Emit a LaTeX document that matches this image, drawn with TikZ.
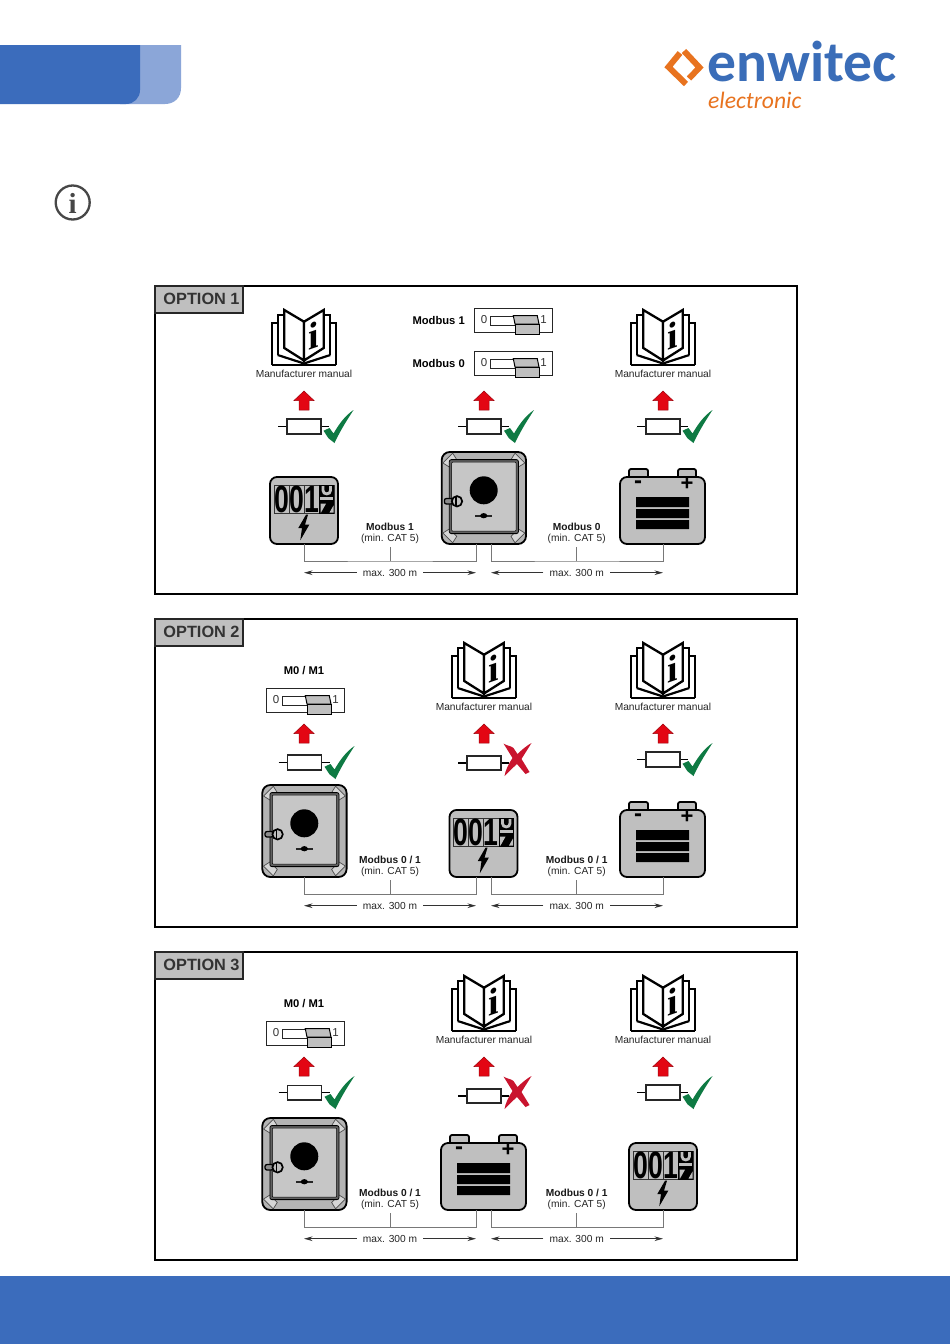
\documentclass[tikz,border=0pt]{standalone}
\usepackage{fontspec}
\setmainfont{Liberation Sans}
\newfontfamily\carlitofam{Carlito}
\newfontfamily\timesfam{Liberation Serif}
\usetikzlibrary{arrows.meta}
\definecolor{hdrblue}{HTML}{3B6CBC}
\definecolor{hdrlight}{HTML}{8BA6D8}
\definecolor{logoorange}{HTML}{E8731F}
\definecolor{logoblue}{HTML}{3A6DB8}
\definecolor{devgray}{HTML}{BFBFBF}
\definecolor{invouter}{HTML}{B4B4B4}
\definecolor{invinner}{HTML}{C6C6C6}
\definecolor{facet}{HTML}{D6D6D6}
\definecolor{okgreen}{HTML}{0E7A43}
\definecolor{nored}{HTML}{C9142E}
\definecolor{uparrow}{HTML}{E30613}
\definecolor{wiregray}{HTML}{787878}
\newcommand\fs[1]{\fontsize{#1}{#1}\selectfont}
\tikzset{
  x=1pt,y=-1pt,
  devline/.style={draw=black,line width=1.8pt,fill=devgray},
  panelframe/.style={draw=black,line width=1.4pt},
  tagbox/.style={draw=black!85,line width=1.2pt,fill=devgray},
  tagtext/.style={font=\bfseries\fs{16.3},text=black!80,inner sep=0pt},
  wire/.style={draw=wiregray,line width=1pt},
  dim/.style={draw=black!80,line width=.8pt,-{Stealth[length=8.5pt,width=4.6pt]}},
  smalltext/.style={font=\fs{10.2},inner sep=0pt,text=black!85},
  cablebold/.style={font=\bfseries\fs{10.2},inner sep=0pt,text=black!90},
  dimtext/.style={font=\fs{10.2},inner sep=6pt,text=black!85},
  bigbold/.style={font=\bfseries\fs{11.2},inner sep=0pt},
  swdigit/.style={font=\fs{11.5},inner sep=0pt,text=black!80},
  pagefill/.style={draw=black,line width=2.3pt,fill=white,line join=miter},
  bookline/.style={draw=black,line width=2.2pt,line join=miter},
  meterdigit/.style={font=\bfseries\fs{38},inner sep=0pt,xscale=.7,transform shape},
}
% book with label; #1 name, #2 centre x, #3 top y
\newcommand\manualicon[3]{%
\begin{scope}[shift={(#2,#3)}]
  \draw[bookline,fill=white] (-32,55) -- (-32,13) -- (-26,13) (32,55) -- (32,13) -- (26,13);
  \draw[bookline] (-32,55) -- (32,55);
  \draw[bookline] (-26.3,45) -- (-26.3,5) -- (-19.7,5);
  \draw[bookline] (26.3,45) -- (26.3,5) -- (19.7,5);
  \draw[bookline] (-26.3,45) -- (0,53.5) -- (26.3,45);
  \draw[pagefill] (0,11.7) -- (-19.7,0) -- (-19.7,38) -- (0,50.5) -- cycle;
  \draw[pagefill] (0,11.7) -- (19.7,0) -- (19.7,38) -- (0,50.5) -- cycle;
  \node[inner sep=0pt,font=\timesfam\bfseries\fs{38},yslant=.35,transform shape] (#1i) at (10,25) {i};
  \node[smalltext] (#1) at (0,64) {Manufacturer manual};
\end{scope}}
% red arrow: centre x, top y
\newcommand\redarrow[2]{%
  \filldraw[fill=uparrow,draw=uparrow!70!black,line width=.5pt,shift={(#1,#2)}]
   (0,0) -- (10,9.5) -- (5,9.5) -- (5,19) -- (-5,19) -- (-5,9.5) -- (-10,9.5) -- cycle;}
% resistor: name, centre x, centre y
\newcommand\resistor[3]{%
\begin{scope}[shift={(#2,#3)}]
  \coordinate (#1L) at (-26,0); \coordinate (#1R) at (25,0);
  \coordinate (#1a) at (-17,0); \coordinate (#1b) at (17,0);
  \draw[black,line width=1.1pt] (#1L) -- (#1a) (#1b) -- (#1R);
  \draw[draw=black!85,fill=white,line width=1.9pt] (-17,-7.2) rectangle (17,7.2);
\end{scope}}
% check mark: left x, top y
\newcommand\okmark[2]{%
  \fill[okgreen,shift={(#1,#2)}] (0,20.7) -- (6,18) -- (10,23.5) .. controls (15,15) and (21,6) .. (30,0)
   .. controls (25,8) and (18,18) .. (11,33) -- (5,28.3) -- cycle;}
% cross: left x, top y
\newcommand\nomark[2]{%
  \fill[nored,shift={(#1,#2)}] (0,0.5) .. controls (4,3) and (8,3) .. (10,5) -- (14,11) .. controls (18,7) and (24,2) .. (28,0)
    .. controls (25,5) and (21,11) .. (18,16) -- (26,29) -- (22,31) -- (13.5,21) .. controls (9,25) and (5,29) .. (1,33)
    .. controls (2,27) and (5,21) .. (9,15) -- cycle;}
% switch: name, left x, top y
\newcommand\switchbox[3]{%
\begin{scope}[shift={(#2,#3)}]
  \draw[draw=black!85,fill=white,line width=.9pt] (0,0) rectangle (78,24);
  \node[swdigit] (#1z) at (10,12) {0};
  \node[swdigit] (#1o) at (69.5,12) {1};
  \draw[draw=black!85,fill=white,line width=1pt] (16,8) rectangle (42,17);
  \filldraw[draw=black,line width=1pt,fill=devgray] (39.3,7.7) -- (63.3,7.7) -- (65,16) -- (41,16) -- cycle;
  \filldraw[draw=black,line width=1pt,fill=devgray] (41,16) rectangle (65,26);
\end{scope}}
% meter: left x, top y
\newcommand\meterdevice[3]{%
\begin{scope}[shift={(#2,#3)}]
  \draw[devline,rounded corners=7pt] (0,0) rectangle (68,67);
  \draw[draw=black!80,line width=.7pt] (4.3,8) rectangle (64,36.7);
  \draw[draw=black!80,line width=.7pt] (19.3,8) -- (19.3,36.7) (34.3,8) -- (34.3,36.7);
  \fill[black] (49.3,8) rectangle (64,36.7);
  \node[meterdigit] (#1d0) at (11.8,22.4) {0};
  \node[meterdigit] (#1d1) at (26.8,22.4) {0};
  \node[meterdigit] (#1d2) at (41.8,22.4) {1};
  \draw[devgray,line width=2.8pt] (53,9) -- (53,13.5) .. controls (53,18) and (60.5,18) .. (60.5,13.5) -- (60.5,9);
  \fill[devgray] (50.3,20) rectangle (63,22.7);
  \fill[devgray] (50.5,26.7) -- (56,26.7) -- (51,35.5) -- (50.5,35.5) -- cycle;
  \fill[devgray] (63.5,28.5) -- (63.5,35.5) -- (59.5,35.5) -- cycle;
  \fill[black] (36,37.7) -- (28.3,51) -- (32,51) -- (30.3,63.3) -- (39.3,47.7) -- (35,47.7) -- (38,37.7) -- cycle;
  \coordinate (#1) at (34,67);
\end{scope}}
% inverter: left x, top y
\newcommand\invdevice[3]{%
\begin{scope}[shift={(#2,#3)}]
  \draw[devline,fill=invouter,rounded corners=8pt] (0,0) rectangle (84.3,92);
  \foreach \sx/\sy in {0/0,1/0,0/1,1/1}{
    \begin{scope}[shift={(\sx*84.3,\sy*92)},xscale=1-2*\sx,yscale=1-2*\sy]
      \filldraw[fill=facet,draw=black!70,line width=.7pt] (1.2,11) -- (11,1.2) -- (15,7.6) -- (7.6,15) -- cycle;
    \end{scope}}
  \draw[draw=black,line width=.8pt,fill=black!62,rounded corners=2pt] (7.6,7.6) rectangle (76.7,81.6);
  \filldraw[draw=black,line width=.5pt,fill=invinner,rounded corners=1pt] (10,10) rectangle (74.4,79.2);
  \fill[black] (42,38.3) circle[radius=14pt];
  \draw[black!85,line width=1.9pt] (33.5,63.7) -- (50.5,63.7);
  \fill[black] (42,63.7) ellipse[x radius=3.6pt,y radius=2.6pt];
  \filldraw[draw=black,fill=black!45,line width=1.3pt,rounded corners=2pt] (2.7,46.5) rectangle (11,52);
  \filldraw[draw=black,fill=devgray,line width=1.7pt] (15.3,49.3) circle[radius=5.2pt];
  \draw[black,line width=1.2pt] (14.3,44.5) -- (14.3,54);
  \coordinate (#1) at (42,92);
\end{scope}}
% battery: left x, top y
\newcommand\battdevice[3]{%
\begin{scope}[shift={(#2,#3)}]
  \draw[devline,rounded corners=2pt] (9,4) -- (9,-8) -- (28,-8) -- (28,4);
  \draw[devline,rounded corners=2pt] (58,4) -- (58,-8) -- (76,-8) -- (76,4);
  \draw[devline,rounded corners=7pt] (0,0) rectangle (85,67);
  \node[inner sep=0pt,font=\bfseries\fs{24}] (#1m) at (18,8) {-};
  \node[inner sep=0pt,font=\bfseries\fs{22}] (#1p) at (67,7.5) {+};
  \fill[black] (16,20) rectangle (69,30) (16,32) rectangle (69,41) (16,43) rectangle (69,52);
  \coordinate (#1) at (42.5,67);
\end{scope}}
% panel: name, top y, title
\newcommand\optionpanel[3]{%
  \draw[panelframe] (155,#2) rectangle (797,#2+308);
  \draw[tagbox] (155,#2) rectangle (243,#2+27);
  \node[tagtext] (#1) at (201.5,#2+13) {#3};}
% wires: prefix, y offset, label 1, label 2
\newcommand\cabling[4]{%
\begin{scope}[shift={(0,#2)}]
  \coordinate (#1pa) at (304,544); \coordinate (#1pb) at (476,544);
  \coordinate (#1pc) at (491,544); \coordinate (#1pd) at (663,544);
  \coordinate (#1wa) at (390,561); \coordinate (#1wb) at (576.7,561);
  \coordinate (#1ta) at (390,547); \coordinate (#1tb) at (576.7,547);
  \draw[wire] (#1pa) |- (#1wa) -| (#1pb);
  \draw[wire] (#1pc) |- (#1wb) -| (#1pd);
  \draw[wire] (#1wa) -- (#1ta);
  \draw[wire] (#1wb) -- (#1tb);
  \node[cablebold] (#1ca) at (390,527) {#3};
  \node[smalltext] (#1cb) at (390,539) {(min. CAT 5)};
  \node[cablebold] (#1cc) at (576.7,527) {#4};
  \node[smalltext] (#1cd) at (576.7,539) {(min. CAT 5)};
  \node[dimtext] (#1da) at (390,572.7) {max. 300 m};
  \node[dimtext] (#1db) at (576.7,572.7) {max. 300 m};
  \coordinate (#1e1) at (304,572.7); \coordinate (#1e2) at (476,572.7);
  \coordinate (#1e3) at (491,572.7); \coordinate (#1e4) at (663,572.7);
  \draw[dim] (#1da) -- (#1e1);
  \draw[dim] (#1da) -- (#1e2);
  \draw[dim] (#1db) -- (#1e3);
  \draw[dim] (#1db) -- (#1e4);
\end{scope}}
\begin{document}
\begin{tikzpicture}
\useasboundingbox (0,0) rectangle (950,1344);
\fill[white] (0,0) rectangle (950,1344);
% header tabs
\fill[hdrlight] (120,45) -- (181,45) -- (181,88) .. controls (181,98) and (174,104) .. (165,104) -- (120,104) -- cycle;
\fill[hdrblue] (0,45) -- (140,45) -- (140,90) .. controls (140,98) and (134,104) .. (126,104) -- (0,104) -- cycle;
% footer
\fill[hdrblue] (0,1276) rectangle (950,1344);
% logo
\draw[logoorange,line width=6pt,line join=miter] (680,53) -- (668.5,67) -- (686,84);
\draw[logoorange,line width=6pt,line join=miter] (684,51) -- (699.5,67.5) -- (689,78.5);
\node[anchor=base west,inner sep=0pt,text=logoblue,font=\carlitofam\bfseries\fs{57.6}] (logomain) at (707.5,81) {enwitec};
\node[anchor=base west,inner sep=0pt,text=logoorange,font=\carlitofam\itshape\fs{23.6}] (logosub) at (708,108) {electronic};
% info icon
\draw[draw=black!72,line width=2.3pt] (72.7,202.5) circle[radius=17pt];
\node[inner sep=0pt,text=black!72,font=\timesfam\bfseries\fs{29}] (infoi) at (72.7,203) {i};

% OPTION 1
\optionpanel{tagA}{286}{OPTION 1}
\manualicon{bookAa}{304}{310}
\manualicon{bookAc}{663}{310}
\node[bigbold,anchor=east] (modA) at (465,320) {Modbus 1};
\node[bigbold,anchor=east] (modB) at (465,363) {Modbus 0};
\switchbox{swA}{474}{308}
\switchbox{swB}{474}{351}
\redarrow{304}{391}\redarrow{484}{391}\redarrow{663}{391}
\resistor{rAa}{304}{426.5}\resistor{rAb}{484}{426.5}\resistor{rAc}{663}{426.5}
\okmark{323.5}{410}\okmark{504}{410}\okmark{682.5}{410}
\meterdevice{devAa}{270}{477}
\invdevice{devAb}{441.7}{452}
\battdevice{devAc}{620}{477}
\cabling{A}{0}{Modbus 1}{Modbus 0}

% OPTION 2
\optionpanel{tagB}{619}{OPTION 2}
\node[bigbold] (mzB) at (304,671) {M0 / M1};
\switchbox{swC}{266}{688}
\manualicon{bookBb}{484}{643}
\manualicon{bookBc}{663}{643}
\redarrow{304}{724}\redarrow{484}{724}\redarrow{663}{724}
\resistor{rBa}{304.5}{762.5}\resistor{rBb}{484}{763}\resistor{rBc}{663}{759.5}
\okmark{324.5}{746}\nomark{503.5}{743}\okmark{682.5}{743}
\invdevice{devBa}{262.3}{785}
\meterdevice{devBb}{449.5}{810}
\battdevice{devBc}{620}{810}
\cabling{B}{333}{Modbus 0 / 1}{Modbus 0 / 1}

% OPTION 3
\optionpanel{tagC}{952}{OPTION 3}
\node[bigbold] (mzC) at (304,1004) {M0 / M1};
\switchbox{swD}{266}{1021}
\manualicon{bookCb}{484}{976}
\manualicon{bookCc}{663}{976}
\redarrow{304}{1057}\redarrow{484}{1057}\redarrow{663}{1057}
\resistor{rCa}{304.5}{1092.7}\resistor{rCb}{484}{1096}\resistor{rCc}{663}{1092.5}
\okmark{324.5}{1076}\nomark{503.5}{1076}\okmark{682.5}{1076}
\invdevice{devCa}{262.3}{1118}
\battdevice{devCb}{441}{1143}
\meterdevice{devCc}{629}{1143}
\cabling{C}{666}{Modbus 0 / 1}{Modbus 0 / 1}
\end{tikzpicture}
\end{document}
